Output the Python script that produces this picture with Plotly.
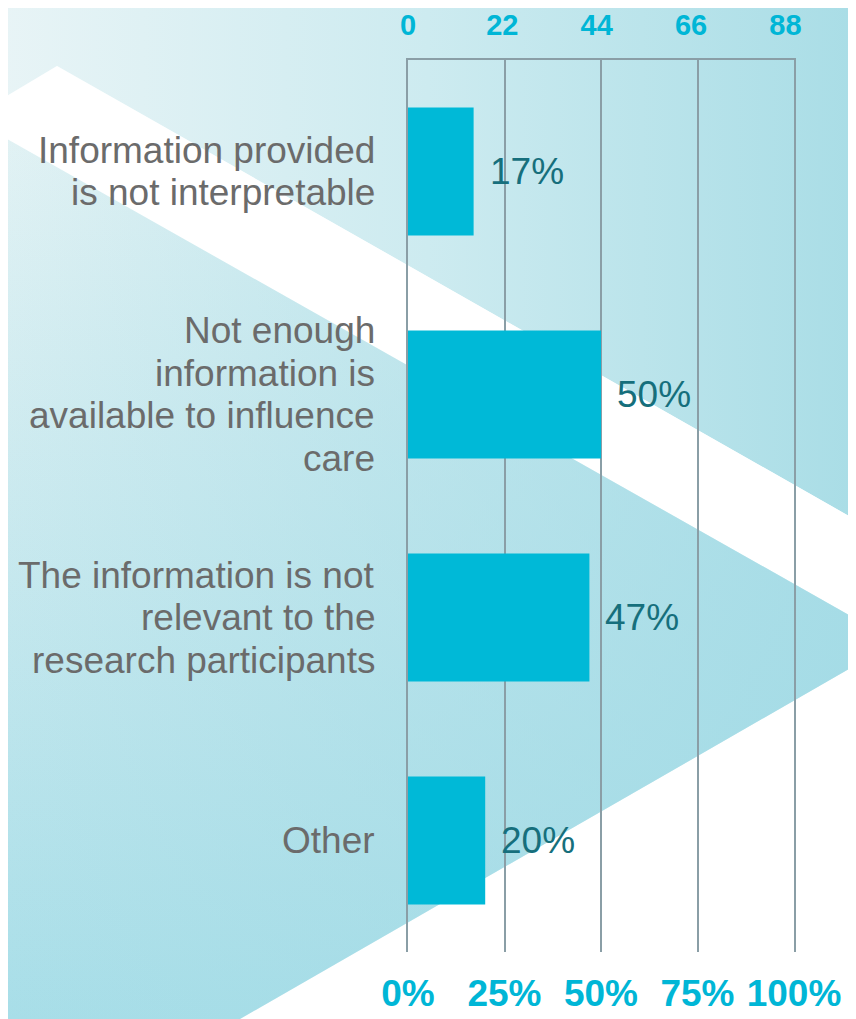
import plotly.graph_objects as go

# ── data ──
categories = [
    "Information provided\nis not interpretable",
    "Not enough\ninformation is\navailable to influence\ncare",
    "The information is not\nrelevant to the\nresearch participants",
    "Other",
]
percent_values = [17, 50, 47, 20]
pct_ticks = [0, 25, 50, 75, 100]
pct_tick_labels = ["0%", "25%", "50%", "75%", "100%"]
count_ticks = [0, 22, 44, 66, 88]

# page is 856x1019 but the browser body has an 8px margin, so the figure
# is shrunk by that much and everything is placed in page pixels.
W, H, OFF = 856, 1019, 8
FW, FH = W - OFF, H - OFF
FONT = "Arial, Liberation Sans, sans-serif"
CYAN = "#00b6d6"
BAR = "#00b9d7"
GRID = "#8a9ea6"
LABEL_GREY = "#6b6b6b"
VALUE_TEAL = "#166f7c"
LINE_H = 42.5

fig = go.Figure()


# ── decorative background (full-page axes x/y, page-pixel units) ──
def bg_poly(xs, ys, kind, stops, start, stop):
    fig.add_trace(go.Scatter(
        x=xs, y=ys, xaxis="x", yaxis="y", mode="lines", fill="toself",
        line=dict(width=0),
        fillgradient=dict(type=kind, colorscale=stops, start=start, stop=stop),
        hoverinfo="skip", showlegend=False,
    ))


# upper cyan region
bg_poly([0, 856, 856, 57, 0, 0], [0, 0, 520, 66, 100, 0], "horizontal",
        [[0, "#e8f4f6"], [0.5, "#cdebf0"], [1, "#a9dde6"]], 0, 856)
# white diagonal band
bg_poly([0, 57, 856, 856, 0, 0], [100, 66, 520, 619, 135, 100], "horizontal",
        [[0, "rgba(255,255,255,0.3)"], [0.3, "rgba(255,255,255,0.95)"], [1, "#ffffff"]], 0, 856)
# lower cyan arrow
c_x = [0, 856, 856, 240, 0, 0]
c_y = [135, 619, 665, 1019, 1019, 135]
bg_poly(c_x, c_y, "vertical", [[0, "#e2f2f4"], [0.5, "#c6e8ee"], [1, "#a8dee8"]], 135, 1019)
bg_poly(c_x, c_y, "horizontal",
        [[0, "rgba(160,218,229,0)"], [1, "rgba(160,218,229,0.85)"]], 0, 856)
# bottom-right white stays as paper colour

# ── bars ──
fig.add_trace(go.Bar(
    x=percent_values, y=categories, orientation="h",
    xaxis="x2", yaxis="y2", width=0.574,
    marker=dict(color=BAR, line=dict(width=0)),
    hoverinfo="skip", showlegend=False,
))
# invisible trace so the top count axis is drawn
fig.add_trace(go.Scatter(
    x=count_ticks[:1], y=categories[:1], xaxis="x3", yaxis="y2",
    mode="markers", marker=dict(opacity=0), hoverinfo="skip", showlegend=False,
))

annotations = []
# category labels, one annotation per line for tight leading
for cat in categories:
    lines = cat.split("\n")
    n = len(lines)
    for j, line in enumerate(lines):
        annotations.append(dict(
            x=0, y=cat, xref="x2", yref="y2", text=line, showarrow=False,
            xanchor="right", yanchor="middle", xshift=-31,
            yshift=((n - 1) / 2 - j) * LINE_H,
            font=dict(family=FONT, size=37, color=LABEL_GREY),
        ))
# value labels
for cat, v in zip(categories, percent_values):
    annotations.append(dict(
        x=v, y=cat, xref="x2", yref="y2", text=f"{v}%", showarrow=False,
        xanchor="left", yanchor="middle", xshift=14,
        font=dict(family=FONT, size=37, color=VALUE_TEAL),
    ))

x0, x1 = (408 - OFF) / FW, (794 - OFF) / FW
y0, y1 = 1 - (952 - OFF) / FH, 1 - (60 - OFF) / FH

fig.update_layout(
    template="none",
    width=FW, height=FH,
    margin=dict(l=0, r=0, t=0, b=0, autoexpand=False),
    paper_bgcolor="#ffffff",
    plot_bgcolor="rgba(0,0,0,0)",
    showlegend=False,
    xaxis=dict(domain=[0, 1], range=[OFF, W], visible=False, fixedrange=True, automargin=False),
    yaxis=dict(domain=[0, 1], range=[H, OFF], visible=False, fixedrange=True, automargin=False),
    xaxis2=dict(
        domain=[x0, x1], anchor="y2", range=[0, 100], automargin=False,
        tickvals=pct_ticks, ticktext=pct_tick_labels,
        showgrid=True, gridcolor=GRID, gridwidth=1.5,
        zeroline=False, showline=False, ticks="",
        ticklabelstandoff=16,
        tickfont=dict(family=FONT, size=37, color=CYAN, weight="bold"),
    ),
    xaxis3=dict(
        overlaying="x2", anchor="y2", side="top", range=[0, 90], automargin=False,
        tickvals=count_ticks, showgrid=False, zeroline=False,
        showline=True, linecolor=GRID, linewidth=2, ticks="",
        ticklabelstandoff=11,
        tickfont=dict(family=FONT, size=29, color=CYAN, weight="bold"),
    ),
    yaxis2=dict(
        domain=[y0, y1], anchor="x2", type="category", automargin=False,
        categoryorder="array", categoryarray=categories,
        range=[len(categories) - 0.5, -0.5],
        showticklabels=False, showgrid=False, zeroline=False,
        showline=True, mirror=True, linecolor=GRID, linewidth=1.5, ticks="",
    ),
    annotations=annotations,
)

fig.write_html("out.html")
